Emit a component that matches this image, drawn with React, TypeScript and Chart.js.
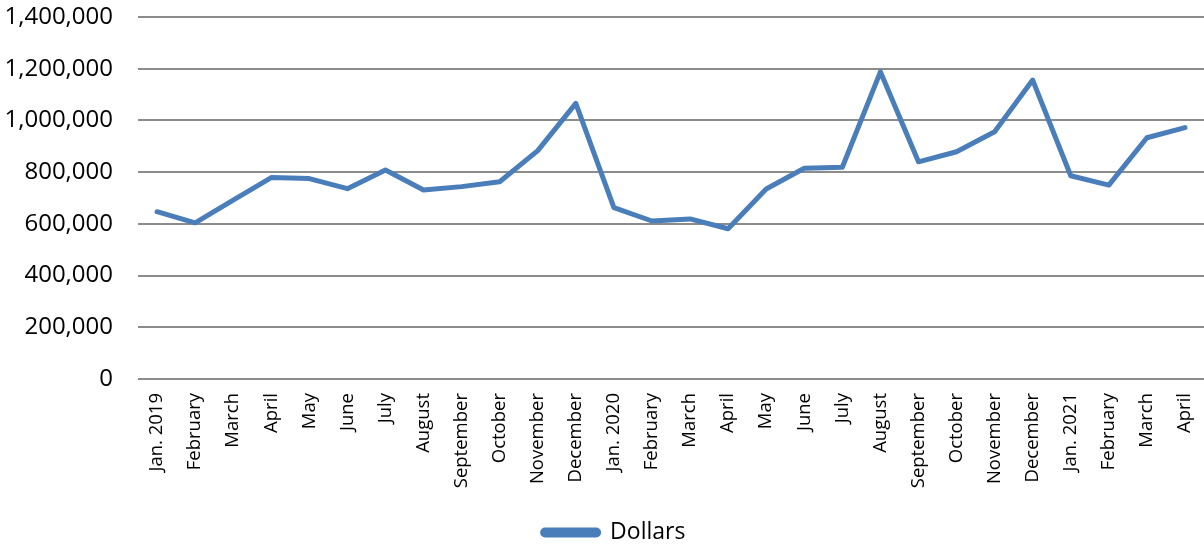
import React, { useEffect, useRef } from "react";
import { Chart, registerables } from "chart.js";

Chart.register(...registerables);

const categories = [
  "Jan. 2019", "February", "March", "April", "May", "June", "July", "August",
  "September", "October", "November", "December",
  "Jan. 2020", "February", "March", "April", "May", "June", "July", "August",
  "September", "October", "November", "December",
  "Jan. 2021", "February", "March", "April",
];

const dollars = [
  647000, 604000, 692000, 779000, 775000, 736000, 808000, 731000,
  744000, 763000, 883000, 1066000,
  663000, 611000, 619000, 581000, 735000, 815000, 819000, 1188000,
  840000, 879000, 956000, 1156000,
  786000, 750000, 933000, 972000,
];

const seriesName = "Dollars";
const yMin = 0;
const yMax = 1400000;
const yStep = 200000;

const FONT = "'Open Sans', 'Liberation Sans', sans-serif";

const shiftLegend = {
  id: "shiftLegend",
  afterLayout(chart: any) {
    const l = chart.legend;
    if (l) l.left += 24;
  },
};

export default function App() {
  const ref = useRef<HTMLCanvasElement | null>(null);

  useEffect(() => {
    document.body.style.margin = "0";
    const canvas = ref.current;
    if (!canvas) return;
    const chart = new Chart(canvas, {
      type: "line",
      data: {
        labels: categories,
        datasets: [
          {
            label: seriesName,
            data: dollars,
            borderColor: "#4A7EBB",
            backgroundColor: "#4A7EBB",
            borderWidth: 5,
            pointRadius: 0,
            pointHoverRadius: 0,
            tension: 0,
            borderCapStyle: "round",
            borderJoinStyle: "round",
            fill: false,
          },
        ],
      },
      plugins: [shiftLegend],
      options: {
        animation: false,
        responsive: false,
        maintainAspectRatio: false,
        layout: { padding: { top: 17, right: 0, left: 0, bottom: -9 } },
        plugins: {
          tooltip: { enabled: false },
          legend: {
            position: "bottom",
            labels: {
              font: { family: FONT, size: 23 },
              color: "#000",
              boxWidth: 56,
              boxHeight: 5,
              useBorderRadius: true,
              borderRadius: 2.5,
              padding: 8,
            },
          },
        },
        scales: {
          x: {
            offset: true,
            grid: { display: false, drawTicks: false },
            border: { display: false },
            afterFit: (axis: any) => {
              axis.height = 134;
              axis.paddingLeft = 0;
              axis.paddingRight = 0;
              axis.paddingTop = 0;
              axis.paddingBottom = 0;
            },
            ticks: {
              autoSkip: false,
              maxRotation: 90,
              minRotation: 90,
              padding: 14,
              color: "#000",
              font: { family: FONT, size: 18.5 },
            },
          },
          y: {
            min: yMin,
            max: yMax,
            grid: { color: "#8C8C8C", lineWidth: 2, drawTicks: false },
            border: { display: false },
            afterFit: (axis: any) => {
              axis.width = 138;
              axis.paddingTop = 0;
              axis.paddingBottom = 0;
              axis.paddingLeft = 0;
              axis.paddingRight = 0;
            },
            ticks: {
              stepSize: yStep,
              padding: 25,
              color: "#000",
              font: { family: FONT, size: 24 },
              callback: (v: any) => Number(v).toLocaleString("en-US"),
            },
          },
        },
      },
    });
    return () => chart.destroy();
  }, []);

  return (
    <div style={{ width: 1204, height: 545 }}>
      <canvas ref={ref} width={1204} height={545} style={{ width: 1204, height: 545 }} />
    </div>
  );
}
